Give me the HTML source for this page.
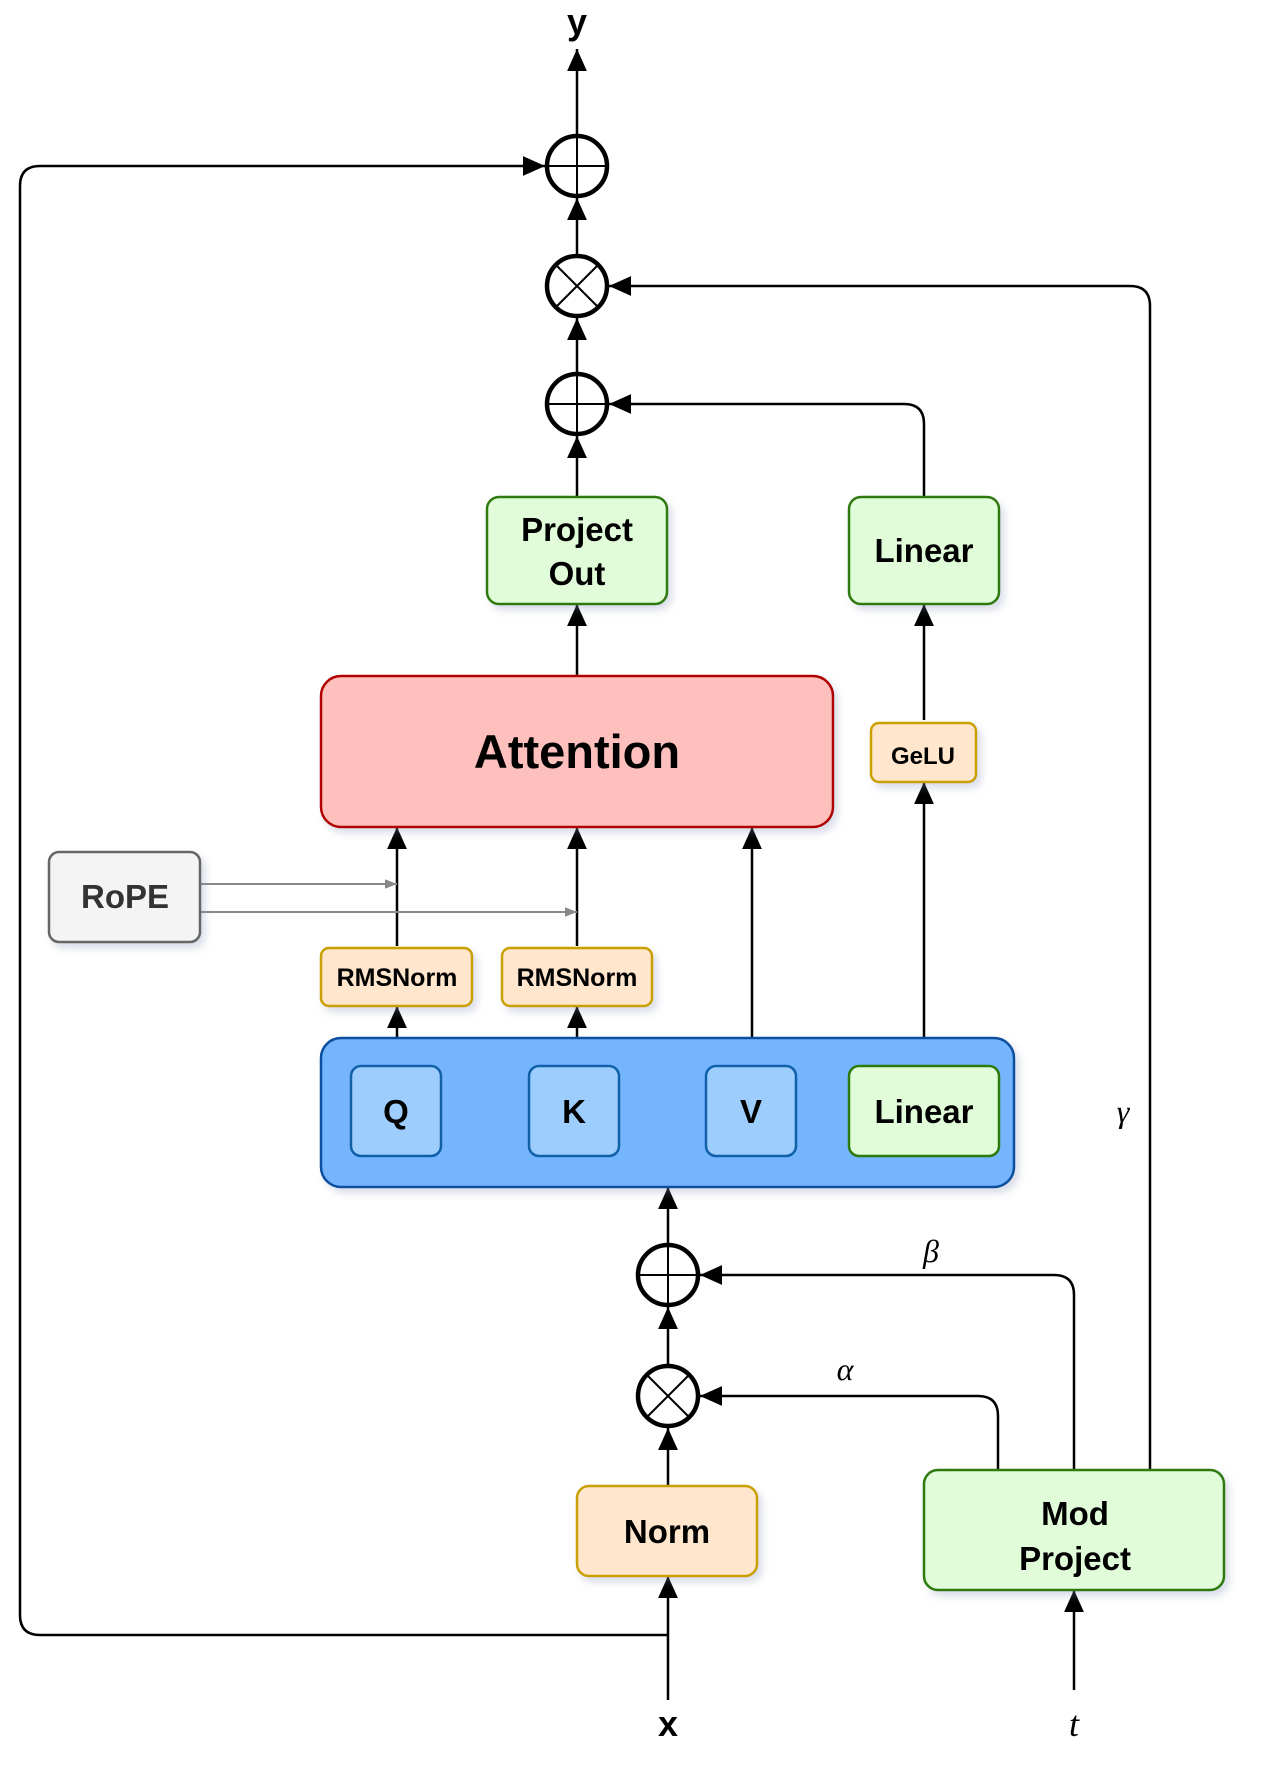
<!DOCTYPE html>
<html><head><meta charset="utf-8"><style>
html,body{margin:0;padding:0;background:#fff}
svg{display:block}
text{font-family:"Liberation Sans",Arial,sans-serif;font-weight:bold;text-anchor:middle}
.m{font-family:"Liberation Serif",serif;font-weight:normal;font-style:italic}
</style></head><body>
<svg width="1278" height="1779" viewBox="0 0 1278 1779" xmlns="http://www.w3.org/2000/svg">
<defs>
<marker id="ab" viewBox="0 0 10 10" refX="10" refY="5" markerWidth="22" markerHeight="22" markerUnits="userSpaceOnUse" orient="auto"><path d="M0,0.5 L10,5 L0,9.5 z" fill="#000"/></marker>
<marker id="ag" viewBox="0 0 10 10" refX="10" refY="5" markerWidth="12" markerHeight="12" markerUnits="userSpaceOnUse" orient="auto"><path d="M0,1 L10,5 L0,9 z" fill="#888"/></marker>
<filter id="s" x="-20%" y="-20%" width="150%" height="150%"><feDropShadow dx="4" dy="5" stdDeviation="4" flood-color="#8090b0" flood-opacity="0.3"/></filter>
</defs>
<g transform="translate(-3,0)">
<g fill="none" stroke="#000" stroke-width="2.5">
<line x1="580" y1="134" x2="580" y2="49" marker-end="url(#ab)"/>
<line x1="580" y1="254" x2="580" y2="198" marker-end="url(#ab)"/>
<line x1="580" y1="372" x2="580" y2="318" marker-end="url(#ab)"/>
<line x1="580" y1="497" x2="580" y2="436" marker-end="url(#ab)"/>
<line x1="580" y1="676" x2="580" y2="604" marker-end="url(#ab)"/>
<path d="M671,1635 L43,1635 Q23,1635 23,1615 L23,186 Q23,166 43,166 L548,166" marker-end="url(#ab)"/>
<path d="M1153,1470 L1153,306 Q1153,286 1133,286 L612,286" marker-end="url(#ab)"/>
<path d="M927,497 L927,424 Q927,404 907,404 L612,404" marker-end="url(#ab)"/>
<line x1="927" y1="720" x2="927" y2="604" marker-end="url(#ab)"/>
<line x1="927" y1="1066" x2="927" y2="782" marker-end="url(#ab)"/>
<line x1="400" y1="946" x2="400" y2="827" marker-end="url(#ab)"/>
<line x1="580" y1="946" x2="580" y2="827" marker-end="url(#ab)"/>
<line x1="755" y1="1066" x2="755" y2="827" marker-end="url(#ab)"/>
<line x1="400" y1="1066" x2="400" y2="1006" marker-end="url(#ab)"/>
<line x1="580" y1="1066" x2="580" y2="1006" marker-end="url(#ab)"/>
<line x1="671" y1="1243" x2="671" y2="1187" marker-end="url(#ab)"/>
<line x1="671" y1="1364" x2="671" y2="1307" marker-end="url(#ab)"/>
<line x1="671" y1="1486" x2="671" y2="1428" marker-end="url(#ab)"/>
<line x1="671" y1="1700" x2="671" y2="1576" marker-end="url(#ab)"/>
<line x1="1077" y1="1690" x2="1077" y2="1590" marker-end="url(#ab)"/>
<path d="M1077,1470 L1077,1295 Q1077,1275 1057,1275 L703,1275" marker-end="url(#ab)"/>
<path d="M1001,1470 L1001,1416 Q1001,1396 981,1396 L703,1396" marker-end="url(#ab)"/>
</g>
<g stroke="#888" stroke-width="2" fill="none">
<line x1="203" y1="884" x2="400" y2="884" marker-end="url(#ag)"/>
<line x1="203" y1="912" x2="580" y2="912" marker-end="url(#ag)"/>
</g>
<g fill="#fff" stroke="#000" stroke-width="4.5">
<circle cx="580" cy="166" r="30"/><circle cx="580" cy="286" r="30"/><circle cx="580" cy="404" r="30"/>
<circle cx="671" cy="1275" r="30"/><circle cx="671" cy="1396" r="30"/>
</g>
<g stroke="#000" stroke-width="2">
<line x1="550" y1="166" x2="610" y2="166"/><line x1="580" y1="136" x2="580" y2="196"/>
<line x1="550" y1="404" x2="610" y2="404"/><line x1="580" y1="374" x2="580" y2="434"/>
<line x1="641" y1="1275" x2="701" y2="1275"/><line x1="671" y1="1245" x2="671" y2="1305"/>
<line x1="559" y1="265" x2="601" y2="307"/><line x1="601" y1="265" x2="559" y2="307"/>
<line x1="650" y1="1375" x2="692" y2="1417"/><line x1="692" y1="1375" x2="650" y2="1417"/>
</g>
<g stroke-width="2.5" filter="url(#s)">
<rect x="490" y="497" width="180" height="107" rx="12" fill="#e0fcd9" stroke="#2d7a0c"/>
<rect x="852" y="497" width="150" height="107" rx="12" fill="#e0fcd9" stroke="#2d7a0c"/>
<rect x="324" y="676" width="512" height="151" rx="20" fill="#fdc0bc" stroke="#b00000"/>
<rect x="874" y="723" width="105" height="59" rx="8" fill="#ffe6cc" stroke="#c9a000"/>
<rect x="52" y="852" width="151" height="90" rx="10" fill="#f4f4f4" stroke="#666"/>
<rect x="324" y="948" width="151" height="58" rx="8" fill="#ffe6cc" stroke="#c9a000"/>
<rect x="505" y="948" width="150" height="58" rx="8" fill="#ffe6cc" stroke="#c9a000"/>
<rect x="324" y="1038" width="693" height="149" rx="20" fill="#74b5fd" stroke="#0b4f9f"/>
<rect x="580" y="1486" width="180" height="90" rx="12" fill="#ffe6cc" stroke="#c9a000"/>
<rect x="927" y="1470" width="300" height="120" rx="14" fill="#e0fcd9" stroke="#2d7a0c"/>
</g>
<g stroke-width="2.5">
<rect x="354" y="1066" width="90" height="90" rx="10" fill="#9ccdfd" stroke="#1060aa"/>
<rect x="532" y="1066" width="90" height="90" rx="10" fill="#9ccdfd" stroke="#1060aa"/>
<rect x="709" y="1066" width="90" height="90" rx="10" fill="#9ccdfd" stroke="#1060aa"/>
<rect x="852" y="1066" width="150" height="90" rx="10" fill="#e0fcd9" stroke="#2d7a0c"/>
</g>
<g fill="#000">
<text x="580" y="541" font-size="33">Project</text>
<text x="580" y="585" font-size="33">Out</text>
<text x="927" y="562" font-size="33">Linear</text>
<text x="580" y="768" font-size="47">Attention</text>
<text x="926" y="764" font-size="24">GeLU</text>
<text x="128" y="908" font-size="33" fill="#333">RoPE</text>
<text x="400" y="986" font-size="25">RMSNorm</text>
<text x="580" y="986" font-size="25">RMSNorm</text>
<text x="399" y="1123" font-size="33">Q</text>
<text x="577" y="1123" font-size="33">K</text>
<text x="754" y="1123" font-size="33">V</text>
<text x="927" y="1123" font-size="33">Linear</text>
<text x="670" y="1543" font-size="33">Norm</text>
<text x="1078" y="1525" font-size="33">Mod</text>
<text x="1078" y="1570" font-size="33">Project</text>
<text x="580" y="34" font-size="36" font-family="Liberation Serif,serif">y</text>
<text x="671" y="1736" font-size="36" font-family="Liberation Serif,serif">x</text>
<text class="m" x="1077" y="1736" font-size="36">t</text>
<text class="m" x="1126" y="1122" font-size="32">γ</text>
<text class="m" x="934" y="1262" font-size="32">β</text>
<text class="m" x="848" y="1380" font-size="32">α</text>
</g>
</g>
</svg>
</body></html>
